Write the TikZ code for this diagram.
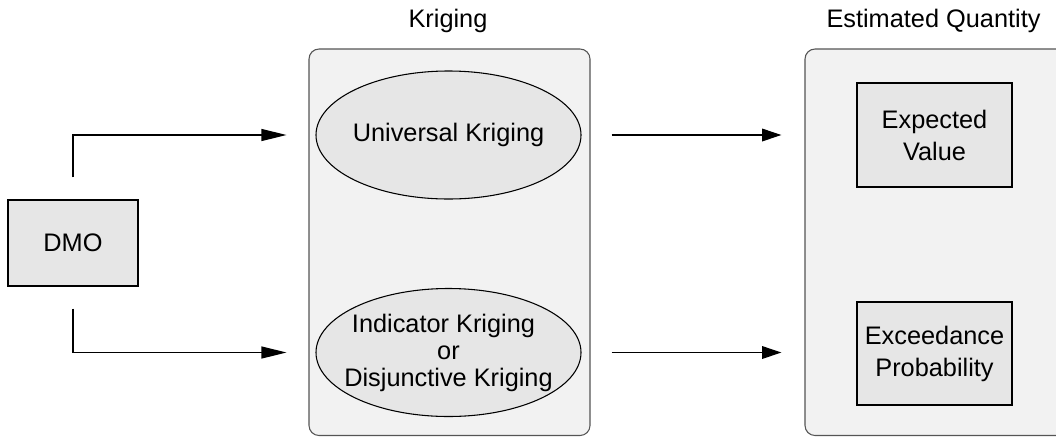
\documentclass[tikz,border=0pt]{standalone}
\usepackage{fontspec}
\setmainfont{Liberation Sans}
\usetikzlibrary{shapes.geometric,arrows.meta}
\definecolor{boxfill}{HTML}{E6E6E6}
\definecolor{panelfill}{HTML}{F2F2F2}
\definecolor{panelline}{HTML}{555555}
\begin{document}
\begin{tikzpicture}[x=0.75pt,y=-0.75pt,
  every node/.style={font=\fontsize{19}{24}\selectfont, text=black},
  panel/.style={draw=panelline, fill=panelfill, line width=0.8pt, rounded corners=7.5pt},
  boxnode/.style={draw=black, fill=boxfill, line width=0.9pt, inner sep=0pt, align=center},
  ellnode/.style={ellipse, draw=black, fill=boxfill, line width=0.8pt, inner sep=0pt,
    minimum width=198.75pt, minimum height=96pt},
  elltext/.style={align=center, font=\fontsize{19}{20.25}\selectfont, inner sep=0pt},
  arr/.style={draw=black, line width=0.9pt, -{Triangle[length=18.75pt,width=9pt]}},
  arrm/.style={draw=black, line width=0.9pt, -{Triangle[length=14.5pt,width=9.5pt]}}
]
\useasboundingbox (0,0) rectangle (1056,436);
% panels
\path[panel] (309,49) rectangle (590,435.5);
\path[panel] (805,49) rectangle (1075,435.5);
% headers
\node[anchor=base] (hk) at (448,27) {Kriging};
\node[anchor=base] (hq) at (933.5,27) {Estimated Quantity};
% nodes
\node[boxnode, minimum width=97.5pt, minimum height=64.5pt] (dmo) at (73,243) {DMO};
\node[ellnode, label={[elltext]center:Universal Kriging}] (uk) at (448.5,135) {};
\node[ellnode, label={[elltext]center:Indicator Kriging\hspace*{7.5pt}\\or\\Disjunctive Kriging}] (ik) at (448.5,352.5) {};
\node[boxnode, minimum width=116.25pt, minimum height=78pt] (ev) at (934.5,135) {Expected\\Value};
\node[boxnode, minimum width=116.25pt, minimum height=77.25pt] (ep) at (934.5,353.5) {Exceedance\\Probability};
% connectors
\draw[arr, shorten <=16.5pt, shorten >=21.75pt] (dmo.north) |- (uk.west);
\draw[arr, shorten <=16.5pt, shorten >=21.75pt] (dmo.south) |- (ik.west);
\draw[arrm, shorten <=22.5pt, shorten >=56.25pt] (uk.east) -- (uk.east -| ev.west);
\draw[arrm, shorten <=22.5pt, shorten >=56.25pt] (ik.east) -- (ik.east -| ep.west);
\end{tikzpicture}
\end{document}
